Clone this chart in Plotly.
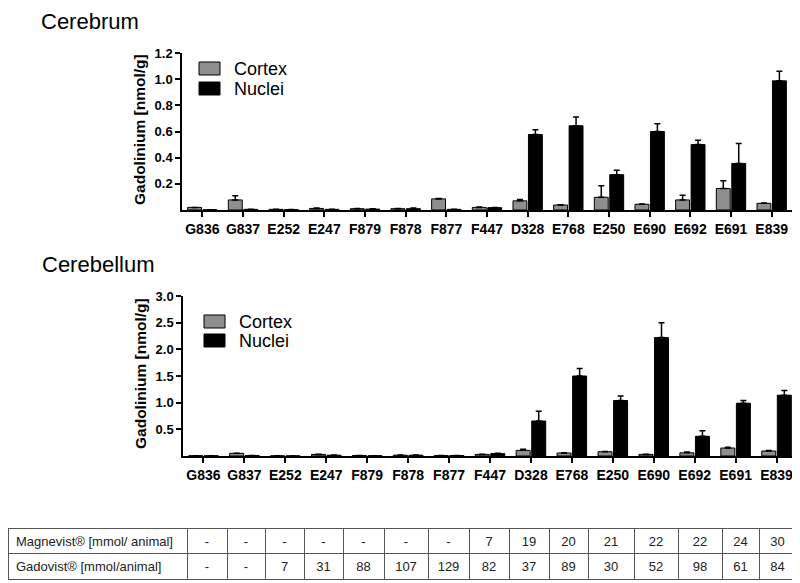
import plotly.graph_objects as go

# --- data -------------------------------------------------------------------
animals = ["G836", "G837", "E252", "E247", "F879", "F878", "F877", "F447",
           "D328", "E768", "E250", "E690", "E692", "E691", "E839"]

cerebrum_cortex = [0.02, 0.077, 0.005, 0.012, 0.01, 0.01, 0.085, 0.02,
                   0.07, 0.038, 0.097, 0.044, 0.077, 0.164, 0.051]
cerebrum_cortex_err = [0.0, 0.031, 0.0, 0.004, 0.002, 0.002, 0.003, 0.002,
                       0.01, 0.002, 0.088, 0.002, 0.036, 0.059, 0.002]
cerebrum_nuclei = [0.002, 0.005, 0.003, 0.005, 0.007, 0.01, 0.005, 0.018,
                   0.577, 0.644, 0.27, 0.6, 0.5, 0.356, 0.987]
cerebrum_nuclei_err = [0.0, 0.0, 0.0, 0.001, 0.002, 0.005, 0.001, 0.002,
                       0.036, 0.066, 0.033, 0.06, 0.033, 0.152, 0.073]

cerebellum_cortex = [0.005, 0.05, 0.003, 0.03, 0.01, 0.015, 0.01, 0.03,
                     0.106, 0.056, 0.08, 0.03, 0.06, 0.15, 0.094]
cerebellum_cortex_err = [0.0, 0.003, 0.0, 0.003, 0.0, 0.002, 0.0, 0.003,
                         0.019, 0.003, 0.005, 0.003, 0.015, 0.012, 0.008]
cerebellum_nuclei = [0.005, 0.01, 0.002, 0.015, 0.005, 0.015, 0.01, 0.045,
                     0.656, 1.5, 1.04, 2.22, 0.37, 0.99, 1.14]
cerebellum_nuclei_err = [0.0, 0.0, 0.0, 0.002, 0.0, 0.003, 0.0, 0.006,
                         0.184, 0.14, 0.085, 0.28, 0.105, 0.05, 0.09]

magnevist = ["-", "-", "-", "-", "-", "-", "-", "7", "19", "20", "21", "22", "22", "24", "30"]
gadovist = ["-", "-", "7", "31", "88", "107", "129", "82", "37", "89", "30", "52", "98", "61", "84"]

col_widths = [179, 40, 38, 39, 39, 41, 44, 41, 40, 40, 39, 46, 44, 44, 37, 37]

# --- style ------------------------------------------------------------------
W, H = 800, 583
OFF = 8  # page body margin: the figure starts 8px in from the window corner
FONT = "Arial, Liberation Sans, sans-serif"
GRAY = "#8e8e8e"
BLACK = "#000000"


def px(x):
    """window pixel x -> paper fraction"""
    return (x - OFF) / W


def py(y):
    """window pixel y -> paper fraction"""
    return 1 - (y - OFF) / H


fig = go.Figure()


def add_pair(cortex, cortex_err, nuclei, nuclei_err, xa, ya):
    zeros = [0] * len(animals)
    fig.add_trace(go.Bar(
        x=animals, y=cortex, name="Cortex", xaxis=xa, yaxis=ya, showlegend=False,
        marker=dict(color=GRAY, line=dict(color=BLACK, width=1)),
        error_y=dict(type="data", array=cortex_err, arrayminus=zeros,
                     symmetric=False, color=BLACK, thickness=1.5, width=3),
    ))
    fig.add_trace(go.Bar(
        x=animals, y=nuclei, name="Nuclei", xaxis=xa, yaxis=ya, showlegend=False,
        marker=dict(color=BLACK, line=dict(color=BLACK, width=1)),
        error_y=dict(type="data", array=nuclei_err, arrayminus=zeros,
                     symmetric=False, color=BLACK, thickness=1.5, width=3),
    ))


add_pair(cerebrum_cortex, cerebrum_cortex_err, cerebrum_nuclei,
         cerebrum_nuclei_err, "x", "y")
add_pair(cerebellum_cortex, cerebellum_cortex_err, cerebellum_nuclei,
         cerebellum_nuclei_err, "x2", "y2")

fig.add_trace(go.Table(
    domain=dict(x=[0, px(796)], y=[py(580), py(528)]),
    columnwidth=col_widths,
    header=dict(values=["Magnevist® [mmol/ animal]"] + magnevist,
                align=["left"] + ["center"] * 15, height=25,
                fill_color="white", line=dict(color="#555555", width=1),
                font=dict(family=FONT, size=13, color="#222222")),
    cells=dict(values=[["Gadovist® [mmol/animal]"]] + [[g] for g in gadovist],
               align=["left"] + ["center"] * 15, height=26,
               fill_color="white", line=dict(color="#555555", width=1),
               font=dict(family=FONT, size=13, color="#222222")),
))

xcommon = dict(type="category", range=[-0.5, 14.5], showline=True,
               linecolor=BLACK, linewidth=1.5, ticks="outside", ticklen=5,
               tickwidth=1.5, tickcolor=BLACK, showgrid=False, zeroline=False,
               automargin=False,
               tickfont=dict(family=FONT, size=14, color=BLACK, weight="bold"))
ycommon = dict(showline=True, linecolor=BLACK, linewidth=1.5, ticks="outside",
               ticklen=5, tickwidth=1.5, tickcolor=BLACK, showgrid=False,
               zeroline=False, automargin=False,
               tickfont=dict(family=FONT, size=13, color=BLACK, weight="bold"))

# hand-drawn legends (swatch box + label), one per panel
shapes = []
annotations = []
for (bx, by, tx), items in [
    ((199, 62, 232), [("Cortex", GRAY, 0), ("Nuclei", BLACK, 20)]),
    ((204, 315, 237), [("Cortex", GRAY, 0), ("Nuclei", BLACK, 19)]),
]:
    for label, color, dy in items:
        shapes.append(dict(type="rect", xref="paper", yref="paper",
                           x0=px(bx), x1=px(bx + 21), y0=py(by + dy + 13),
                           y1=py(by + dy), fillcolor=color,
                           line=dict(color=BLACK, width=1)))
        annotations.append(dict(text=label, x=px(tx), y=py(by + dy + 7),
                                xref="paper", yref="paper", xanchor="left",
                                yanchor="middle", showarrow=False,
                                font=dict(family=FONT, size=18, color=BLACK)))

annotations += [
    dict(text="Cerebrum", x=px(40), y=1.0, xref="paper", yref="paper",
         xanchor="left", yanchor="top", showarrow=False, borderpad=0,
         font=dict(family=FONT, size=22, color=BLACK)),
    dict(text="Cerebellum", x=px(40), y=py(264), xref="paper", yref="paper",
         xanchor="left", yanchor="middle", showarrow=False,
         font=dict(family=FONT, size=22, color=BLACK)),
    dict(text="Gadolinium [nmol/g]", x=px(140), y=py(130), xref="paper",
         yref="paper", xanchor="center", yanchor="middle", textangle=-90,
         showarrow=False,
         font=dict(family=FONT, size=15.5, color=BLACK, weight="bold")),
    dict(text="Gadolinium [nmol/g]", x=px(140), y=py(374), xref="paper",
         yref="paper", xanchor="center", yanchor="middle", textangle=-90,
         showarrow=False,
         font=dict(family=FONT, size=15.5, color=BLACK, weight="bold")),
]

fig.update_layout(
    width=W, height=H,
    margin=dict(l=0, r=0, t=0, b=0),
    paper_bgcolor="white", plot_bgcolor="white",
    font=dict(family=FONT, color=BLACK),
    barmode="group", bargap=0.24, bargroupgap=0.1,
    xaxis=dict(domain=[px(182), px(792)], anchor="y", **xcommon),
    yaxis=dict(domain=[py(210), py(53)], anchor="x", range=[0, 1.2],
               tickvals=[0.2, 0.4, 0.6, 0.8, 1.0, 1.2],
               ticktext=["0.2", "0.4", "0.6", "0.8", "1.0", "1.2"], **ycommon),
    xaxis2=dict(domain=[px(183), px(797)], anchor="y2", **xcommon),
    yaxis2=dict(domain=[py(456), py(296)], anchor="x2", range=[0, 3.0],
                tickvals=[0.5, 1.0, 1.5, 2.0, 2.5, 3.0],
                ticktext=["0.5", "1.0", "1.5", "2.0", "2.5", "3.0"], **ycommon),
    shapes=shapes,
    annotations=annotations,
)

fig.write_html("out.html")
